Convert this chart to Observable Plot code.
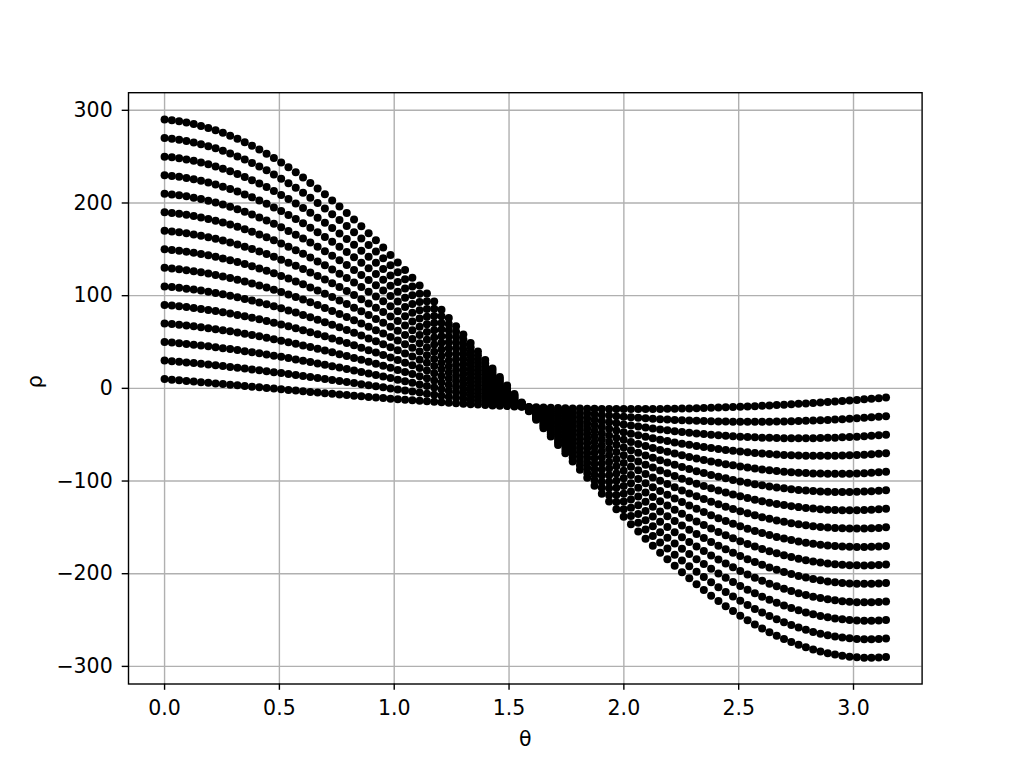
<!DOCTYPE html>
<html>
<head>
<meta charset="utf-8">
<script src="https://cdn.jsdelivr.net/npm/d3@7"></script>
<script src="https://cdn.jsdelivr.net/npm/@observablehq/plot@0.6"></script>
<style>
  html, body { margin: 0; padding: 0; background: #fff; }
  #chart { width: 1024px; height: 768px; }
</style>
</head>
<body>
<div id="chart"></div>
<script>
// Source points (x, y) whose Hough-space sinusoids are drawn
const pointX = [10, 30, 50, 70, 90, 110, 130, 150, 170, 190, 210, 230, 250, 270, 290];
const pointY = [-20, -20, -20, -20, -20, -20, -20, -20, -20, -20, -20, -20, -20, -20, -20];
// Number of sampled angles between 0 and π
const thetaSamples = 100;
const xTicks = [0.0, 0.5, 1.0, 1.5, 2.0, 2.5, 3.0];
const yTicks = [-300, -200, -100, 0, 100, 200, 300];

const thetas = d3.range(thetaSamples).map(i => i * Math.PI / (thetaSamples - 1));
const rows = [];
pointX.forEach((px, k) => {
  const py = pointY[k];
  thetas.forEach(t => rows.push({theta: t, rho: px * Math.cos(t) + py * Math.sin(t), k}));
});

const W = 1024, H = 768;
const frameLeft = 128, frameRight = 921.6, frameTop = 92.2, frameBottom = 683.5;
const fs = 20.5;

const chart = Plot.plot({
  width: W,
  height: H,
  marginLeft: frameLeft,
  marginRight: W - frameRight,
  marginTop: frameTop,
  marginBottom: H - frameBottom,
  style: {fontFamily: "DejaVu Sans", fontSize: fs + "px", background: "#fff", color: "#000"},
  x: {domain: [-0.05 * Math.PI, 1.05 * Math.PI]},
  y: {domain: [-319, 319]},
  marks: [
    Plot.gridX(xTicks, {stroke: "#b0b0b0", strokeOpacity: 1, strokeWidth: 1.4}),
    Plot.gridY(yTicks, {stroke: "#b0b0b0", strokeOpacity: 1, strokeWidth: 1.4}),
    Plot.dot(rows, {x: "theta", y: "rho", r: 4, fill: "black", stroke: "none"}),
    Plot.frame({stroke: "black", strokeWidth: 1.4}),
    Plot.axisX(xTicks, {tickFormat: d3.format(".1f"), tickSize: 6.3, tickPadding: 10, strokeWidth: 1.4, fontSize: fs, label: null}),
    Plot.axisY(yTicks, {tickFormat: d3.format("d"), tickSize: 6.3, tickPadding: 9.5, strokeWidth: 1.4, fontSize: fs, label: null}),
    Plot.text(["θ"], {frameAnchor: "bottom", dy: 55, fontSize: fs, lineAnchor: "middle"}),
    Plot.text(["ρ"], {frameAnchor: "left", dx: -93, fontSize: fs, rotate: -90, lineAnchor: "middle"})
  ]
});
document.getElementById("chart").appendChild(chart);
</script>
</body>
</html>
